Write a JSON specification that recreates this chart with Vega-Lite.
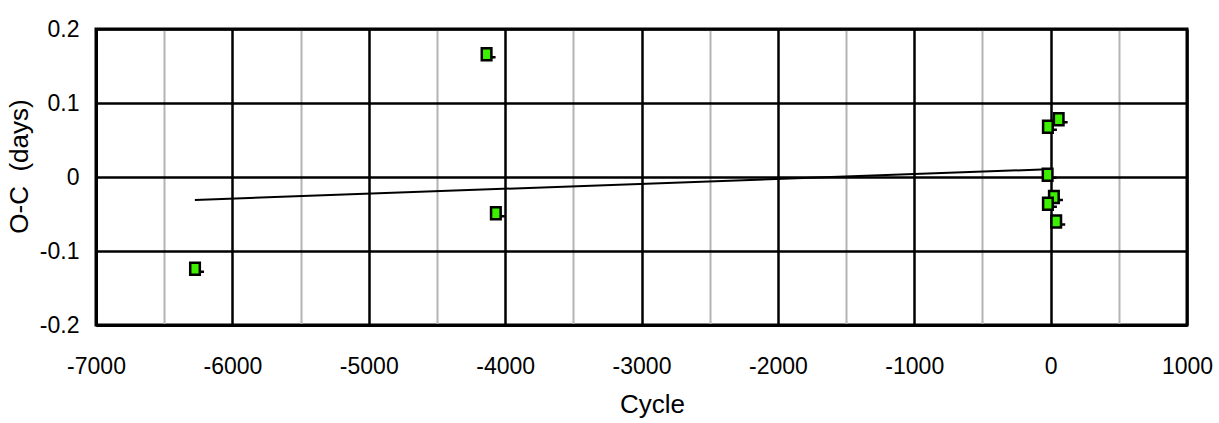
{
  "$schema": "https://vega.github.io/schema/vega-lite/v6.json",
  "autosize": "none",
  "width": 1091,
  "height": 296,
  "padding": {"left": 96, "top": 29, "right": 32, "bottom": 98},
  "background": "white",
  "config": {
    "view": {"stroke": "black", "strokeWidth": 3},
    "axis": {
      "labelFont": "Liberation Sans",
      "labelFontSize": 23,
      "labelColor": "black",
      "titleFont": "Liberation Sans",
      "titleFontSize": 26,
      "titleFontWeight": "normal",
      "titleColor": "black",
      "domainColor": "black",
      "domainWidth": 3,
      "ticks": false,
      "tickSize": 0,
      "labelFlush": false,
      "labelOverlap": false,
      "gridOpacity": 1
    }
  },
  "datasets": {
    "points": [
      {"cycle": -6274, "oc": -0.124},
      {"cycle": -4136, "oc": 0.166},
      {"cycle": -4068, "oc": -0.049},
      {"cycle": 59, "oc": 0.078},
      {"cycle": -20, "oc": 0.068},
      {"cycle": -22, "oc": 0.003},
      {"cycle": 24, "oc": -0.027},
      {"cycle": -20, "oc": -0.036},
      {"cycle": 41, "oc": -0.060}
    ],
    "fit": [
      {"cycle": -6275, "oc": -0.031},
      {"cycle": -20, "oc": 0.0105}
    ]
  },
  "layer": [
    {
      "data": {"name": "fit"},
      "mark": {"type": "line", "color": "black", "strokeWidth": 2},
      "encoding": {
        "x": {
          "field": "cycle", "type": "quantitative",
          "scale": {"domain": [-7000, 1000], "nice": false, "zero": false},
          "axis": {
            "title": "Cycle",
            "values": [-7000, -6500, -6000, -5500, -5000, -4500, -4000, -3500, -3000, -2500, -2000, -1500, -1000, -500, 0, 500, 1000],
            "labelExpr": "datum.value % 1000 == 0 ? '' + datum.value : ''",
            "labelPadding": 30,
            "titlePadding": 13,
            "titleX": 556,
            "grid": true,
            "gridColor": {"condition": {"test": "datum.value % 1000 == 0", "value": "black"}, "value": "#b4b4b4"},
            "gridWidth": {"condition": {"test": "datum.value % 1000 == 0", "value": 2.5}, "value": 2}
          }
        },
        "y": {
          "field": "oc", "type": "quantitative",
          "scale": {"domain": [-0.2, 0.2], "nice": false, "zero": false},
          "axis": {
            "title": "O-C\u00a0\u00a0(days)",
            "values": [-0.2, -0.15, -0.1, -0.05, 0, 0.05, 0.1, 0.15, 0.2],
            "labelExpr": "abs(round(datum.value * 20)) % 2 == 0 ? '' + datum.value : ''",
            "labelPadding": 17,
            "titlePadding": 7,
            "titleY": 137,
            "grid": true,
            "gridColor": {"condition": {"test": "abs(round(datum.value * 20)) % 2 == 0", "value": "black"}, "value": "#b4b4b4"},
            "gridWidth": {"condition": {"test": "abs(round(datum.value * 20)) % 2 == 0", "value": 2.5}, "value": 2}
          }
        }
      }
    },
    {
      "data": {"name": "points"},
      "mark": {
        "type": "point",
        "shape": "M-0.8,-1H0.8V1H-0.8Z M0.8,0.5H1.5",
        "size": 144,
        "filled": false,
        "fill": "#3cf000",
        "fillOpacity": 1,
        "stroke": "black",
        "strokeWidth": 2.5,
        "opacity": 1
      },
      "encoding": {
        "x": {"field": "cycle", "type": "quantitative"},
        "y": {"field": "oc", "type": "quantitative"}
      }
    }
  ]
}
